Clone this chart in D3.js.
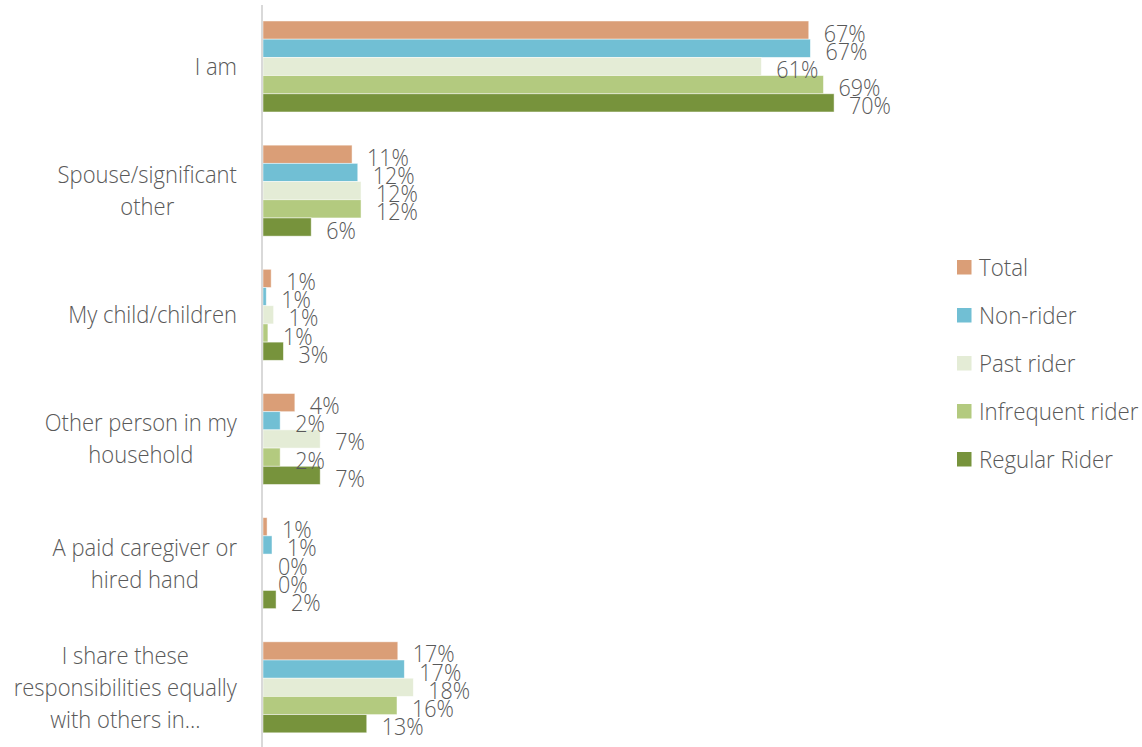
<!DOCTYPE html>
<html><head><meta charset="utf-8">
<script src="https://cdn.jsdelivr.net/npm/d3@7"></script>
<style>
html,body{margin:0;padding:0;background:#fff;}
text{font-family:"Open Sans","Noto Sans",sans-serif;fill:#595959;font-weight:300;}
</style></head>
<body><svg id="chart" width="1142" height="747"></svg>
<script>
const categories = [
  ["I am"],
  ["Spouse/significant", "other"],
  ["My child/children"],
  ["Other person in my", "household"],
  ["A paid caregiver or", "hired hand"],
  ["I share these", "responsibilities equally", "with others in..."]
];
const seriesNames = ["Total", "Non-rider", "Past rider", "Infrequent rider", "Regular Rider"];
const seriesColors = ["#DA9E77", "#71BFD4", "#E4ECD6", "#B3CA7F", "#77933C"];
const total      = [66.8, 10.9, 1.0, 3.9, 0.5, 16.5];
const nonRider   = [67.0, 11.6, 0.4, 2.1, 1.1, 17.3];
const pastRider  = [61.0, 12.0, 1.3, 7.0, 0.0, 18.4];
const infrequent = [68.6, 12.0, 0.6, 2.1, 0.0, 16.4];
const regular    = [69.9, 5.9, 2.5, 7.0, 1.6, 12.7];
const labelsTotal      = ["67%","11%","1%","4%","1%","17%"];
const labelsNonRider   = ["67%","12%","1%","2%","1%","17%"];
const labelsPast       = ["61%","12%","1%","7%","0%","18%"];
const labelsInfrequent = ["69%","12%","1%","2%","0%","16%"];
const labelsRegular    = ["70%","6%","3%","7%","2%","13%"];

const seriesValues = [total, nonRider, pastRider, infrequent, regular];
const seriesLabels = [labelsTotal, labelsNonRider, labelsPast, labelsInfrequent, labelsRegular];

const svg = d3.select("#chart");
const SY = 1.1;          // vertical stretch of text, as in the reference
const left = 263, plotTop = 4.4, plotBottom = 749.4;

const x = d3.scaleLinear().domain([0, 80]).range([left, left + 80 * 8.17]);
const catIdx = d3.range(categories.length);
const y0 = d3.scaleBand().domain(catIdx).range([plotTop, plotBottom]).padding(0);
const groupH = 91;
const y1 = d3.scaleBand().domain(d3.range(seriesNames.length))
  .range([(y0.bandwidth() - groupH) / 2, (y0.bandwidth() + groupH) / 2]).padding(0);

// bars
seriesValues.forEach((vals, s) => {
  const g = svg.append("g");
  g.selectAll("rect").data(vals).join("rect")
    .attr("x", x(0))
    .attr("y", (d, i) => y0(i) + y1(s))
    .attr("width", d => x(d) - x(0))
    .attr("height", y1.bandwidth())
    .attr("fill", seriesColors[s])
    .attr("stroke", "rgba(255,255,255,0.6)")
    .attr("stroke-width", 0.8);
});

// axis line
const ax = svg.append("g").attr("transform", `translate(${left - 1},0)`)
  .call(d3.axisLeft(y0).tickSize(0).tickFormat(""));
ax.select(".domain").attr("stroke", "#d9d9d9").attr("stroke-width", 2)
  .attr("d", `M0,5V747`);

// data labels
seriesValues.forEach((vals, s) => {
  svg.append("g").selectAll("text").data(vals).join("text")
    .attr("transform", (d, i) => `translate(${x(d) + 15},${y0(i) + y1(s) + y1.bandwidth() / 2 + 11.5}) scale(1,1.13)`)
    .style("font-size", "21.5px")
    .text((d, i) => seriesLabels[s][i]);
});

// category labels
const lineH = 32, rightEdge = 237;
categories.forEach((lines, i) => {
  const cy = y0(i) + y0.bandwidth() / 2;
  const g = svg.append("g");
  const texts = lines.map((ln, k) => g.append("text")
    .style("font-size", "22px")
    .attr("text-anchor", "middle")
    .text(ln));
  const maxW = d3.max(texts, t => t.node().getComputedTextLength());
  const cx = rightEdge - maxW / 2;
  texts.forEach((t, k) => {
    const by = cy + (k - (lines.length - 1) / 2) * lineH + 8.5;
    t.attr("transform", `translate(${cx},${by}) scale(1,${SY})`);
  });
});

// legend
const legend = svg.append("g");
seriesNames.forEach((name, s) => {
  const cy = 267 + s * 48;
  legend.append("rect").attr("x", 957).attr("y", cy - 7).attr("width", 14.5).attr("height", 14.5)
    .attr("fill", seriesColors[s]);
  legend.append("text")
    .attr("transform", `translate(979,${cy + 8.5}) scale(1,${SY})`)
    .style("font-size", "22.3px")
    .text(name);
});
</script></body></html>
